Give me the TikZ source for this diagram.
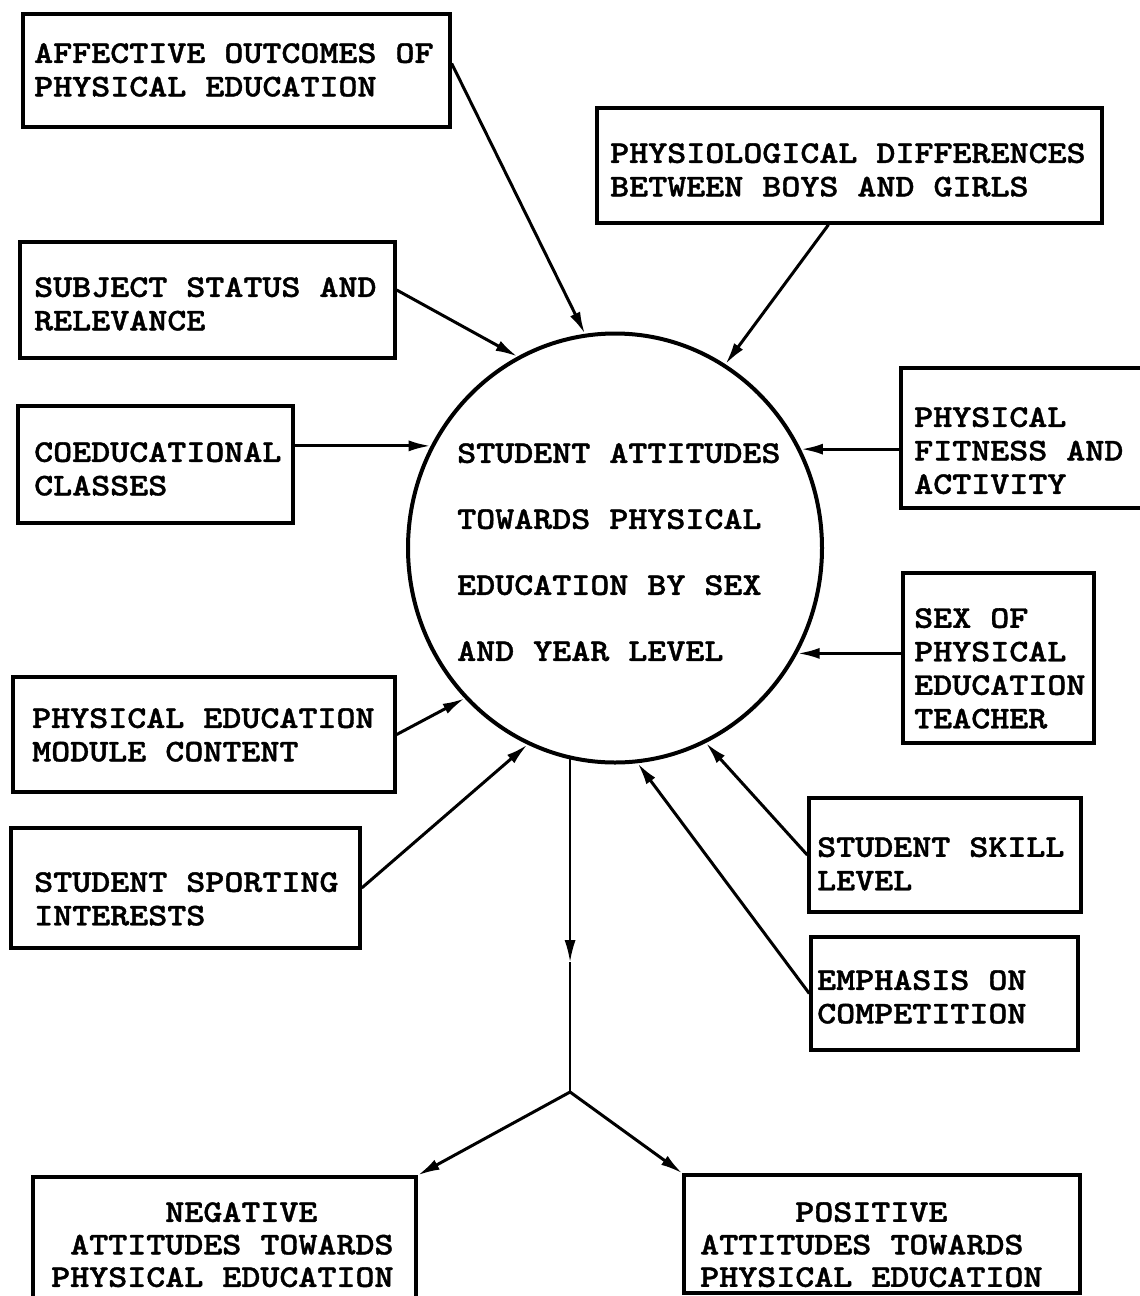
\documentclass[tikz,border=0pt]{standalone}
\usepackage{fontspec}
\newfontfamily\tw{lmmonolt10-bold.otf}[FakeStretch=1.15,FakeBold=1.2]
\usetikzlibrary{arrows.meta,shapes.geometric}
\begin{document}
\begin{tikzpicture}[x=1pt,y=-1pt,
  box/.style={draw, line width=3.4pt, rectangle, inner sep=0pt},
  txt/.style={font=\tw\fontsize{31.5}{33.5}\selectfont, align=left, inner sep=0pt, anchor=north west},
  btxt/.style={font=\tw\fontsize{31.5}{32.5}\selectfont, align=left, inner sep=0pt, anchor=north west},
  ctxt/.style={font=\tw\fontsize{31.5}{66}\selectfont, align=left, inner sep=0pt, anchor=north west},
  tip/.style={-{Latex[length=22pt,width=11pt]}},
  arr/.style={line width=3pt, tip},
  thin/.style={line width=2pt}]
\useasboundingbox (0,0) rectangle (1140,1296);
\fill[white] (0,0) rectangle (1140,1296);

% central ellipse
\node[draw, ellipse, line width=4pt, minimum width=414pt, minimum height=429pt, inner sep=0pt] (c) at (615,548) {};
\node[ctxt] (ct) at (457,443) {STUDENT ATTITUDES\\TOWARDS PHYSICAL\\EDUCATION BY SEX\\AND YEAR LEVEL};

% boxes
\node[box, minimum width=427pt, minimum height=113pt] (b1) at (236.5,70.5) {};
\node[txt] (t1) at (34,43) {AFFECTIVE OUTCOMES OF\\PHYSICAL EDUCATION};

\node[box, minimum width=505pt, minimum height=115pt] (b2) at (849.5,165.5) {};
\node[txt] (t2) at (610,143) {PHYSIOLOGICAL DIFFERENCES\\BETWEEN BOYS AND GIRLS};

\node[box, minimum width=375pt, minimum height=116pt] (b3) at (207.5,300) {};
\node[txt] (t3) at (34,277) {SUBJECT STATUS AND\\RELEVANCE};

\node[box, minimum width=275pt, minimum height=117pt] (b4) at (155.5,464.5) {};
\node[txt] (t4) at (34,442) {COEDUCATIONAL\\CLASSES};

\node[box, minimum width=259pt, minimum height=140pt] (b5) at (1030.5,438) {};
\node[txt] (t5) at (914,407) {PHYSICAL\\FITNESS AND\\ACTIVITY};

\node[box, minimum width=191pt, minimum height=170pt] (b6) at (998.5,658) {};
\node[txt] (t6) at (914,608) {SEX OF\\PHYSICAL\\EDUCATION\\TEACHER};

\node[box, minimum width=382pt, minimum height=115pt] (b7) at (204,734.5) {};
\node[txt] (t7) at (32,708) {PHYSICAL EDUCATION\\MODULE CONTENT};

\node[box, minimum width=349pt, minimum height=120pt] (b8) at (185.5,888) {};
\node[txt] (t8) at (34,872) {STUDENT SPORTING\\INTERESTS};

\node[box, minimum width=272pt, minimum height=114pt] (b9) at (945,855) {};
\node[txt] (t9) at (817,837) {STUDENT SKILL\\LEVEL};

\node[box, minimum width=267pt, minimum height=113pt] (b10) at (944.5,993.5) {};
\node[txt] (t10) at (817,970) {EMPHASIS ON\\COMPETITION};

\node[box, minimum width=383pt, minimum height=143pt] (b11) at (224.5,1248.5) {};
\node[btxt] (t11) at (51,1202) {\phantom{XXXXXX}NEGATIVE\\\phantom{X}ATTITUDES TOWARDS\\PHYSICAL EDUCATION};

\node[box, minimum width=396pt, minimum height=118pt] (b12) at (882,1234) {};
\node[btxt] (t12) at (700,1202) {\phantom{XXXXX}POSITIVE\\ATTITUDES TOWARDS\\PHYSICAL EDUCATION};

% incoming arrows
\draw[arr] ([yshift=7pt]b1.east) -- (c.98.4);
\draw[arr] ([xshift=-21pt]b2.south) -- (c.59.2);
\draw[arr] ([yshift=10pt]b3.east) -- (c.117.8);
\draw[arr] (b4.east |- c.151.8) -- (c.151.8);
\draw[arr] (b5.west |- c.28.7) -- (c.28.7);
\draw[arr] (b6.west |- c.330.3) -- (c.330.3);
\draw[arr] (b7.east) -- (c.225.2);
\draw[arr] (b8.east) -- (c.246.7);
\draw[arr] (b9.west) -- (c.295.3);
\draw[arr] (b10.west) -- (c.276.7);

% outgoing
\coordinate (midlvl) at (0,962);
\coordinate (lvl) at (0,1092);
\coordinate (mid) at (c.258 |- midlvl);
\coordinate (split) at (c.258 |- lvl);
\draw[thin, tip] (c.258) -- (mid);
\draw[thin] (mid) -- (split);
\draw[arr] (split) -- (b11.north east);
\draw[arr] (split) -- (b12.north west);
\end{tikzpicture}
\end{document}
